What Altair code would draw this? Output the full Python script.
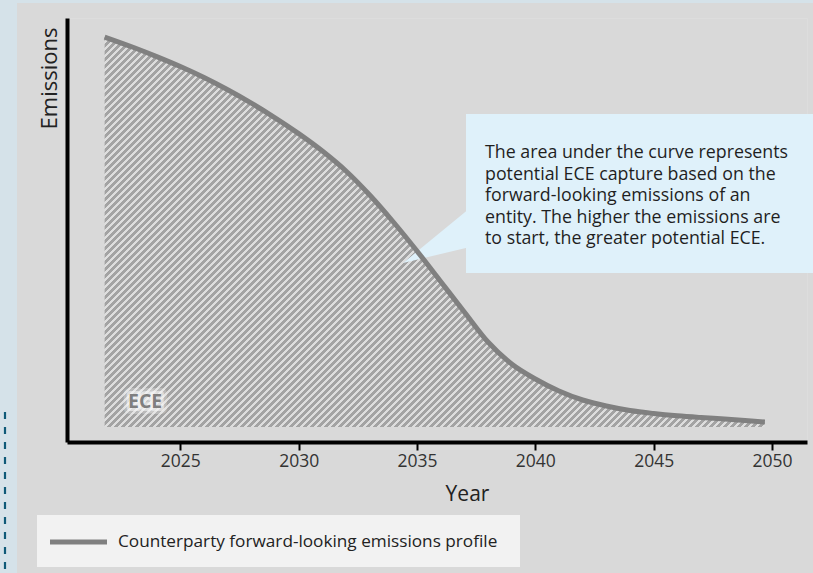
import altair as alt
import pandas as pd

# ---- data ----
years = [2021.8, 2023, 2024, 2025, 2026, 2027, 2028, 2029, 2030, 2031, 2032,
         2033, 2034, 2035, 2036, 2037, 2038, 2039, 2040, 2041, 2042, 2043,
         2044, 2045, 2046, 2047, 2048, 2049, 2049.7]
emissions = [95.35, 92.84, 90.56, 88.12, 85.43, 82.44, 79.17, 75.6, 71.74, 67.48, 62.59,
             56.72, 50.12, 43.03, 35.57, 28.12, 20.78, 15.4, 11.74, 8.8, 6.6, 5.13,
             4.03, 3.3, 2.74, 2.32, 1.96, 1.54, 1.22]
tick_years = [2025, 2030, 2035, 2040, 2045, 2050]
series_label = "Counterparty forward-looking emissions profile"
area_label = "ECE"
callout_lines = [
    "The area under the curve represents",
    "potential ECE capture based on the",
    "forward-looking emissions of an",
    "entity. The higher the emissions are",
    "to start, the greater potential ECE.",
]

df = pd.DataFrame({"year": years, "emissions": emissions})
one = pd.DataFrame({"k": [0]})

FONT = "Open Sans"
W, H = 740, 424
X_DOM = [2020.21, 2051.48]
Y_DOM = [-3.67, 100]
x_scale = alt.Scale(domain=X_DOM, nice=False, zero=False)
y_scale = alt.Scale(domain=Y_DOM, nice=False, zero=False)

# hatch fill: a striped linear gradient whose stripe period is a whole number of
# pixels along (x + y), so the 45-degree stripes render without moire
bb_w = (max(years) - min(years)) * W / (X_DOM[1] - X_DOM[0])
bb_h = max(emissions) * H / (Y_DOM[1] - Y_DOM[0])
PERIOD = 7
N = int((bb_w + bb_h) / PERIOD) + 2
L = PERIOD * N
gx = L * bb_w / (bb_w ** 2 + bb_h ** 2)
gy = gx * bb_h / bb_w
dark, light = "#a3a3a3", "#dddddd"
stops = []
for i in range(N):
    a, b, c = i / N, (i + 0.5) / N, (i + 1) / N
    stops += [alt.GradientStop(offset=a, color=dark), alt.GradientStop(offset=b, color=dark),
              alt.GradientStop(offset=b, color=light), alt.GradientStop(offset=c, color=light)]
hatch = alt.Gradient(gradient="linear", stops=stops, x1=0, y1=0, x2=gx, y2=gy)

xenc = alt.X("year:Q", scale=x_scale, axis=alt.Axis(
    values=tick_years, format="d", grid=False, zindex=1,
    domainColor="black", domainWidth=4, tickColor="black", tickWidth=2, tickSize=8,
    labelFontSize=17.5, labelColor="#333333", labelPadding=2, labelFont=FONT,
    title="Year", titleFontSize=21, titleFontWeight="normal", titleColor="#222222",
    titleFont=FONT, titleX=400, titleY=58, titleAlign="center", titleBaseline="alphabetic"))
yenc = alt.Y("emissions:Q", scale=y_scale, axis=alt.Axis(
    labels=False, ticks=False, grid=False, zindex=1,
    domainColor="black", domainWidth=4,
    title="Emissions", titleFontSize=22, titleFontWeight="normal", titleColor="#222222",
    titleFont=FONT, titleAngle=270, titleX=-11, titleY=60, titleAlign="center",
    titleBaseline="alphabetic"))

blue_bg = "#d5e2e9"
strip_top = alt.Chart(one).mark_rect(color=blue_bg).encode(
    x=alt.value(-67), x2=alt.value(746), y=alt.value(-18), y2=alt.value(-15))
strip_left = alt.Chart(one).mark_rect(color=blue_bg).encode(
    x=alt.value(-67), x2=alt.value(-50), y=alt.value(-18), y2=alt.value(555))
dash = alt.Chart(one).mark_rule(color="#0f5a78", strokeWidth=2.2, strokeDash=[7, 8]).encode(
    x=alt.value(-62), y=alt.value(394), y2=alt.value(555))

area = alt.Chart(df).mark_area(color=hatch, interpolate="monotone").encode(x=xenc, y=yenc)

callout_box = alt.Chart(one).mark_rect(color="#dff1fa").encode(
    x=alt.value(399), x2=alt.value(750), y=alt.value(96), y2=alt.value(255))
pointer = alt.Chart(one).mark_point(
    shape="M-0.914,0.8L1,-0.771L1,0.343Z", filled=True, color="#dff1fa", opacity=1,
    strokeWidth=0, size=4900).encode(x=alt.value(368), y=alt.value(217))

line = alt.Chart(df).mark_line(color="#808080", strokeWidth=5, interpolate="monotone",
                               strokeCap="butt").encode(x="year:Q", y="emissions:Q")

callout_text = alt.Chart(one).mark_text(
    text=callout_lines, align="left", baseline="alphabetic", lineHeight=21.6,
    font=FONT, fontSize=17.8, color="#1f1f1f").encode(x=alt.value(418), y=alt.value(140))

ECE_SIZE = 19.5
ece_glow1 = alt.Chart(one).mark_text(
    text=area_label, align="left", baseline="middle", font=FONT, fontSize=ECE_SIZE,
    fontWeight="bold", color="#f6f6f6", stroke="#f6f6f6", strokeWidth=12,
    strokeOpacity=0.3, strokeJoin="round").encode(x=alt.value(61), y=alt.value(384))
ece_glow2 = alt.Chart(one).mark_text(
    text=area_label, align="left", baseline="middle", font=FONT, fontSize=ECE_SIZE,
    fontWeight="bold", color="#f6f6f6", stroke="#f6f6f6", strokeWidth=6,
    strokeOpacity=0.6, strokeJoin="round").encode(x=alt.value(61), y=alt.value(384))
ece = alt.Chart(one).mark_text(
    text=area_label, align="left", baseline="middle", font=FONT, fontSize=ECE_SIZE,
    fontWeight="bold", color="#7f7f7f").encode(x=alt.value(61), y=alt.value(384))

leg_box = alt.Chart(one).mark_rect(color="#f2f2f2").encode(
    x=alt.value(-30), x2=alt.value(453), y=alt.value(497), y2=alt.value(549))
leg_line = alt.Chart(one).mark_rule(color="#808080", strokeWidth=5).encode(
    x=alt.value(-17), x2=alt.value(40), y=alt.value(524))
leg_text = alt.Chart(one).mark_text(
    text=series_label, align="left", baseline="middle", font=FONT, fontSize=17.2,
    color="#222222").encode(x=alt.value(51), y=alt.value(524))

chart = alt.layer(
    strip_top, strip_left, dash, area, callout_box, pointer, line,
    callout_text, ece_glow1, ece_glow2, ece, leg_box, leg_line, leg_text
).properties(
    width=W, height=H, background="#d9d9d9",
    padding={"left": 67, "top": 18, "right": 6, "bottom": 131},
    autosize=alt.AutoSizeParams(type="none"),
).configure_view(stroke=None).configure(font=FONT)

chart.save("out.html", embed_options={"renderer": "svg", "actions": False})
